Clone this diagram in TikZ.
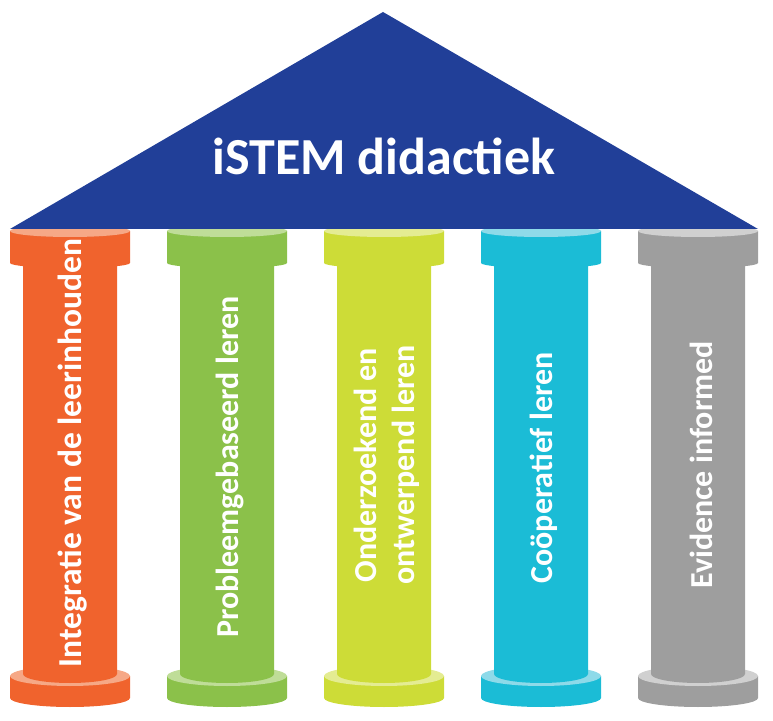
\documentclass[tikz,border=0pt]{standalone}
\usepackage{fontspec}
\setmainfont{Carlito}
\definecolor{roofblue}{HTML}{213F98}
\definecolor{cOrange}{HTML}{F0632D}
\definecolor{lOrange}{HTML}{F6A886}
\definecolor{cGreen}{HTML}{8BC14A}
\definecolor{lGreen}{HTML}{BFDD98}
\definecolor{cLime}{HTML}{CDDC37}
\definecolor{lLime}{HTML}{E4EC92}
\definecolor{cCyan}{HTML}{1BBCD6}
\definecolor{lCyan}{HTML}{8EDAE9}
\definecolor{cGray}{HTML}{9E9E9E}
\definecolor{lGray}{HTML}{D0D0D0}
\newcommand\pillar[3]{%
  % base
  \fill[#2] (#1-60,44) -- (#1-60,22) arc[start angle=180,end angle=360,x radius=60,y radius=9] -- (#1+60,44) -- cycle;
  \fill[#3] (#1,44) ellipse[x radius=60,y radius=10];
  % shaft
  \fill[#2] (#1-47,470) -- (#1-47,46) arc[start angle=180,end angle=360,x radius=47,y radius=9] -- (#1+47,470) -- cycle;
  % capital
  \fill[#2] (#1-60,489) -- (#1-60,457) arc[start angle=180,end angle=360,x radius=60,y radius=5] -- (#1+60,489) -- cycle;
  \fill[#3] (#1,489) ellipse[x radius=60,y radius=6];
}
\tikzset{
  pillartext/.style={text=white,font=\bfseries\fontsize{32}{38}\selectfont,rotate=90,align=center,inner sep=0pt},
}
\begin{document}
\begin{tikzpicture}[x=1pt,y=1pt]
\useasboundingbox (0,0) rectangle (773,720);
\pillar{70}{cOrange}{lOrange}
\pillar{227}{cGreen}{lGreen}
\pillar{384}{cLime}{lLime}
\pillar{541}{cCyan}{lCyan}
\pillar{698}{cGray}{lGray}
\fill[roofblue] (10,491) -- (383,708) -- (758,491) -- cycle;
\node[text=white,font=\bfseries\fontsize{52}{60}\selectfont,anchor=base,inner sep=0pt] (title) at (384,545) {iSTEM didactiek};
\node[pillartext,font=\bfseries\fontsize{33.5}{40}\selectfont] (p1) at (73,267) {Integratie van de leerinhouden};
\node[pillartext] (p2) at (230,253) {Probleemgebaseerd leren};
\node[pillartext] (p3) at (387,255) {Onderzoekend en\\ontwerpend leren};
\node[pillartext] (p4) at (544,252) {Coöperatief leren};
\node[pillartext] (p5) at (701,255) {Evidence informed};
\end{tikzpicture}
\end{document}
